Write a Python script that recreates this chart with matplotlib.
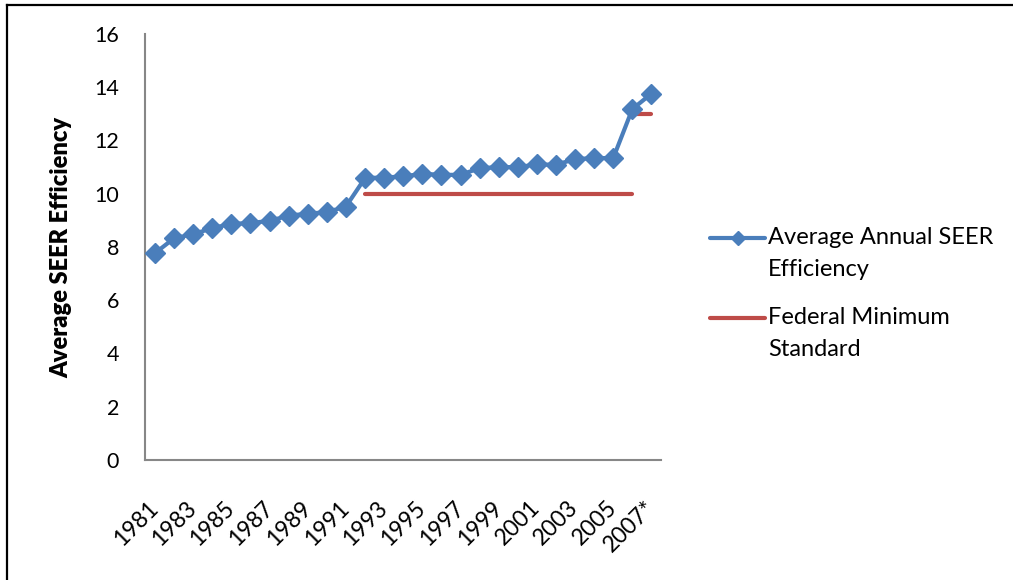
import matplotlib
matplotlib.use("Agg")
import matplotlib.pyplot as plt
from matplotlib.lines import Line2D

# Data: average annual SEER of shipped units vs. the federal minimum
years = ["1981", "1982", "1983", "1984", "1985", "1986", "1987", "1988", "1989",
         "1990", "1991", "1992", "1993", "1994", "1995", "1996", "1997", "1998",
         "1999", "2000", "2001", "2002", "2003", "2004", "2005", "2006", "2007*"]
avg_seer = [7.77, 8.33, 8.48, 8.71, 8.87, 8.90, 8.98, 9.18, 9.25,
            9.31, 9.52, 10.59, 10.61, 10.65, 10.75, 10.71, 10.71, 10.96,
            11.00, 11.00, 11.10, 11.09, 11.30, 11.34, 11.34, 13.18, 13.76]

# Federal minimum: 10 SEER from 1992 through 2006, 13 SEER from 2006 on
fed_years_10 = ["1992", "1993", "1994", "1995", "1996", "1997", "1998", "1999",
                "2000", "2001", "2002", "2003", "2004", "2005", "2006"]
fed_min_10 = [10, 10, 10, 10, 10, 10, 10, 10, 10, 10, 10, 10, 10, 10, 10]
fed_years_13 = ["2006", "2007*"]
fed_min_13 = [13, 13]

y_ticks = [0, 2, 4, 6, 8, 10, 12, 14, 16]

BLUE = "#4A7EBB"
RED = "#BE4B48"
FONT = "Lato"
TICK_SIZE = 15.5
XTICK_SIZE = 16.5
TEXT_SIZE = 17

plt.rcParams["font.family"] = [FONT, "DejaVu Sans"]

fig = plt.figure(figsize=(10.13, 5.8), dpi=100)
ax = fig.add_axes([0.1436, 0.2069, 0.5089, 0.7345])

idx = {y: i for i, y in enumerate(years)}
x_all = [idx[y] for y in years]

ax.plot([idx[y] for y in fed_years_10], fed_min_10, color=RED, lw=3.0,
        solid_capstyle="round", zorder=2)
ax.plot([idx[y] for y in fed_years_13], fed_min_13, color=RED, lw=3.0,
        solid_capstyle="round", zorder=2)
ax.plot(x_all, avg_seer, color=BLUE, lw=3.0, marker="D", markersize=9.8,
        markerfacecolor=BLUE, markeredgecolor=BLUE, zorder=3)

ax.set_xlim(-0.5, len(years) - 0.5)
ax.set_ylim(0, 16)
ax.set_yticks(y_ticks)
ax.set_yticklabels([str(v) for v in y_ticks], fontsize=TICK_SIZE)

ax.set_xticks(x_all[::2])
ax.set_xticklabels(years[::2], fontsize=XTICK_SIZE, rotation=45, ha="right",
                   va="center", rotation_mode="anchor")

ax.tick_params(axis="y", length=0, pad=19)
ax.tick_params(axis="x", length=0, pad=32)

for side in ("top", "right"):
    ax.spines[side].set_visible(False)
for side in ("left", "bottom"):
    ax.spines[side].set_color("#878787")
    ax.spines[side].set_linewidth(1.5)

ax.set_ylabel("Average SEER Efficiency", fontsize=TEXT_SIZE, fontweight="heavy")
ax.yaxis.set_label_coords(-0.141, 0.50)

# Legend drawn by hand so the key sits on the first line of each label
W, H = 1013.0, 580.0


def fx(px):
    return px / W


def fy(py):
    return 1 - py / H


fig.add_artist(Line2D([fx(710), fx(765)], [fy(238), fy(238)], color=BLUE, lw=3.0,
                      solid_capstyle="round"))
fig.add_artist(Line2D([fx(737.5)], [fy(238)], color=BLUE, marker="D",
                      markersize=7.5, markeredgecolor=BLUE))
fig.text(fx(768), fy(238), "Average Annual SEER", fontsize=TEXT_SIZE, va="center", ha="left")
fig.text(fx(768), fy(270), "Efficiency", fontsize=TEXT_SIZE, va="center", ha="left")

fig.add_artist(Line2D([fx(710), fx(765)], [fy(318), fy(318)], color=RED, lw=3.0,
                      solid_capstyle="round"))
fig.text(fx(768), fy(318), "Federal Minimum", fontsize=TEXT_SIZE, va="center", ha="left")
fig.text(fx(768), fy(350), "Standard", fontsize=TEXT_SIZE, va="center", ha="left")

# Outer frame (top and left edges)
fig.add_artist(Line2D([fx(7), fx(7)], [fy(5), 0], color="black", lw=1.6))
fig.add_artist(Line2D([fx(7), 1], [fy(5), fy(5)], color="black", lw=1.6))

fig.savefig("out.png", dpi=100)
